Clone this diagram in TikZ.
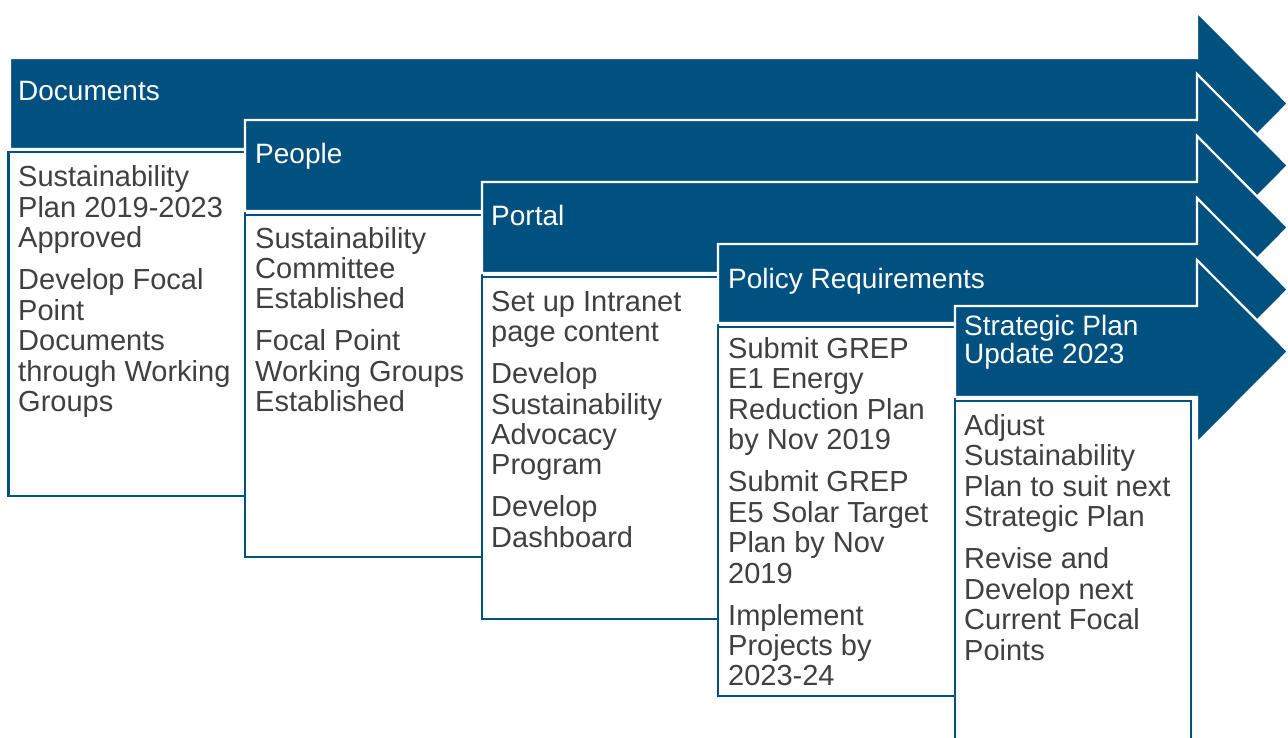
\documentclass[tikz,border=0pt]{standalone}
\usepackage{fontspec}
\setmainfont{Liberation Sans}
\definecolor{navy}{RGB}{0,81,128}
\definecolor{txtgray}{RGB}{64,64,64}
\newcommand\stacklines[1]{\begin{tabular}[t]{@{}l@{}}#1\end{tabular}}
\tikzset{
  arrowband/.style={fill=navy, draw=white, line width=2.2pt, line join=miter},
  itembox/.style={fill=white, draw=navy, line width=2.6pt},
  headtext/.style={anchor=base west, inner sep=0pt, text=white, font=\fontsize{28}{28}\selectfont},
  bodytext/.style={anchor=base west, inner sep=0pt, text=txtgray, font=\fontsize{29}{30.5}\selectfont},
}
\begin{document}
\begin{tikzpicture}[x=1pt,y=-1pt]
\useasboundingbox (0,0) rectangle (1288,738);
\clip (0,0) rectangle (1288,738);

% Stage 1
\draw[arrowband] (10,58) -- (1197,58) -- (1197,12) -- (1288,103.5) -- (1197,195) -- (1197,149) -- (10,149) -- cycle;
\draw[itembox] (8.5,152) rectangle (245,496);
\node[headtext] (h1) at (18,101) {Documents};
\node[bodytext] (b1) at (18,187) {\stacklines{Sustainability\\Plan 2019-2023\\Approved\\[11.5pt]Develop Focal\\Point\\Documents\\through Working\\Groups}};

% Stage 2
\draw[arrowband] (245,120) -- (1197,120) -- (1197,74) -- (1288,165.5) -- (1197,257) -- (1197,211) -- (245,211) -- cycle;
\draw[itembox] (245,215) rectangle (482,557);
\node[headtext] (h2) at (255,164) {People};
\node[bodytext] (b2) at (255,248) {\stacklines{Sustainability\\Committee\\Established\\[11.5pt]Focal Point\\Working Groups\\Established}};

% Stage 3
\draw[arrowband] (482,182) -- (1197,182) -- (1197,136) -- (1288,227.5) -- (1197,319) -- (1197,273) -- (482,273) -- cycle;
\draw[itembox] (482,277) rectangle (718,619);
\node[headtext] (h3) at (491,226) {Portal};
\node[bodytext] (b3) at (491,311) {\stacklines{Set up Intranet\\page content\\[11.5pt]Develop\\Sustainability\\Advocacy\\Program\\[11.5pt]Develop\\Dashboard}};

% Stage 4
\draw[arrowband] (718,244) -- (1197,244) -- (1197,198) -- (1288,289.5) -- (1197,381) -- (1197,323) -- (718,323) -- cycle;
\draw[itembox] (718,327) rectangle (955,696);
\node[headtext] (h4) at (728,288) {Policy Requirements};
\node[bodytext] (b4) at (728,358) {\stacklines{Submit GREP\\E1 Energy\\Reduction Plan\\by Nov 2019\\[11.5pt]Submit GREP\\E5 Solar Target\\Plan by Nov\\2019\\[11.5pt]Implement\\Projects by\\2023-24}};

% Stage 5
\draw[arrowband] (955,306) -- (1197,306) -- (1197,260) -- (1288,351.5) -- (1197,443) -- (1197,397) -- (955,397) -- cycle;
\draw[itembox] (955,401) rectangle (1191,760);
\node[headtext] (h5) at (964,335) {\stacklines{Strategic Plan\\Update 2023}};
\node[bodytext] (b5) at (964,435) {\stacklines{Adjust\\Sustainability\\Plan to suit next\\Strategic Plan\\[11.5pt]Revise and\\Develop next\\Current Focal\\Points}};
\end{tikzpicture}
\end{document}
